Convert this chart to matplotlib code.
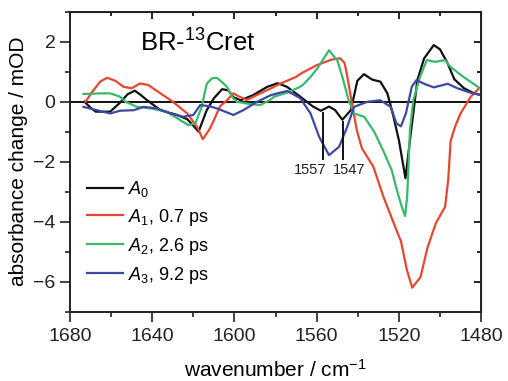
import matplotlib
matplotlib.use('Agg')
import matplotlib.pyplot as plt
from matplotlib.ticker import MultipleLocator

plt.rcParams['font.family'] = 'Liberation Sans'
plt.rcParams['mathtext.fontset'] = 'custom'
plt.rcParams['mathtext.rm'] = 'Liberation Sans'
plt.rcParams['mathtext.it'] = 'Liberation Sans:italic'

# A0 (black)
a0_wn = [1673, 1670, 1667.5, 1660.5, 1656, 1652, 1648.5, 1645.5, 1642.7, 1636, 1628, 1623,
         1620, 1617.5, 1613.5, 1610, 1606, 1603, 1600.5, 1597, 1591, 1584, 1579, 1574.5,
         1568, 1562, 1558, 1554, 1551, 1547.5, 1543.4, 1540.2, 1537, 1533, 1529, 1525.6,
         1523, 1520, 1516.8, 1514.2, 1511, 1507.7, 1503, 1500, 1496.4, 1493, 1488.3, 1484, 1480]
a0_val = [0.0, -0.2, -0.33, -0.33, -0.05, 0.25, 0.37, 0.22, 0.06, -0.28, -0.44, -0.58,
          -0.8, -1.0, -0.28, 0.12, 0.42, 0.38, 0.15, 0.05, 0.22, 0.5, 0.62, 0.5,
          0.17, -0.15, -0.3, -0.16, -0.28, -0.6, -0.28, 0.7, 0.92, 0.74, 0.67, 0.28,
          -0.39, -1.28, -2.55, -1.05, 0.72, 1.45, 1.89, 1.75, 1.3, 0.75, 0.45, 0.3, 0.22]

# A1, 0.7 ps (red)
a1_wn = [1672.5, 1669, 1665.4, 1662, 1658, 1654, 1650, 1646, 1642, 1636, 1630, 1623,
         1618.3, 1615.4, 1612, 1610, 1607, 1603.7, 1600.5, 1598.5, 1594, 1590.8, 1584,
         1577.5, 1570, 1567.7, 1563, 1560, 1553, 1548.6, 1546.5, 1545.5, 1543.4, 1540.5,
         1538, 1532.4, 1527.5, 1521.8, 1519, 1516.1, 1513.5, 1509.5, 1506, 1502, 1497.5,
         1496, 1494.8, 1492.5, 1490, 1485, 1481, 1480]
a1_val = [0.0, 0.35, 0.67, 0.8, 0.7, 0.5, 0.45, 0.61, 0.56, 0.28, 0.0, -0.39,
          -0.83, -1.25, -0.9, -0.61, -0.15, 0.05, 0.28, 0.2, 0.06, 0.17, 0.39,
          0.61, 0.83, 0.94, 1.11, 1.22, 1.4, 1.45, 1.3, 1.0, 0.17, -0.94,
          -1.55, -2.17, -3.17, -4.17, -4.65, -5.61, -6.2, -5.85, -4.85, -4.05, -3.5,
          -2.6, -1.3, -0.8, -0.39, 0.17, 0.45, 0.48]

# A2, 2.6 ps (green)
a2_wn = [1673.5, 1665.4, 1660.5, 1655.7, 1653, 1647.5, 1641, 1633, 1626.5, 1622.4, 1619,
         1616, 1613.5, 1611, 1608.6, 1606, 1603.7, 1601, 1598.9, 1594, 1587.5, 1582.7,
         1580.7, 1574.5, 1568, 1566, 1563, 1559.7, 1556.5, 1554, 1551.5, 1550, 1547.5,
         1544.5, 1541.8, 1536.9, 1532, 1527.5, 1523.5, 1521, 1518.6, 1517, 1516, 1514.6,
         1513, 1509.7, 1506.4, 1502.4, 1497.5, 1495, 1488.6, 1480.5]
a2_val = [0.26, 0.28, 0.28, 0.17, 0.0, -0.17, -0.22, -0.33, -0.61, -0.78, -0.72,
          -0.17, 0.6, 0.78, 0.8, 0.65, 0.5, 0.15, 0.0, -0.06, -0.11, 0.06,
          0.17, 0.3, 0.5, 0.61, 0.83, 1.11, 1.45, 1.72, 1.5, 1.39, 0.83,
          0.06, -0.39, -0.5, -1.0, -1.65, -2.28, -2.94, -3.5, -3.81, -3.2, -0.94,
          0.05, 0.83, 1.39, 1.33, 1.39, 1.17, 0.83, 0.45]

# A3, 9.2 ps (blue)
a3_wn = [1673.5, 1667, 1660.5, 1655.7, 1649, 1644.3, 1637.8, 1631.3, 1625, 1620, 1616.7,
         1612, 1608.6, 1600.5, 1595.7, 1589, 1582.3, 1578, 1574.3, 1568, 1563, 1558.8,
         1554, 1549.1, 1545.1, 1541.8, 1535.3, 1529, 1524, 1521.2, 1519, 1516.6, 1513.7,
         1511.5, 1507, 1503, 1496.2, 1491.5, 1485, 1480]
a3_val = [-0.17, -0.28, -0.39, -0.3, -0.28, -0.17, -0.22, -0.39, -0.5, -0.44, -0.11,
          -0.15, -0.22, -0.44, -0.28, 0.0, 0.22, 0.3, 0.36, 0.12, -0.39, -1.17,
          -1.78, -1.5, -0.83, -0.17, 0.0, 0.05, -0.17, -0.72, -0.82, -0.39, 0.5,
          0.72, 0.58, 0.48, 0.6, 0.45, 0.3, 0.22]

labels = ['$A_0$', '$A_1$, 0.7 ps', '$A_2$, 2.6 ps', '$A_3$, 9.2 ps']
colors = ['#111111', '#e8472f', '#3ab86c', '#3b4aa0']

marks = [1557, 1547]
mark_top = [-0.38, -0.67]
mark_bottom = -1.92

fig = plt.figure(figsize=(5.08, 3.81), dpi=100)
ax = fig.add_axes([0.138, 0.182, 0.809, 0.787])

series = [(a0_wn, a0_val), (a1_wn, a1_val), (a2_wn, a2_val), (a3_wn, a3_val)]
for (wn, val), lab, col in zip(series, labels, colors):
    ax.plot(wn, val, color=col, lw=1.6, label=lab)

ax.axhline(0, color='#111111', lw=1.4, zorder=1)

for m, top in zip(marks, mark_top):
    ax.plot([m, m], [top, mark_bottom], color='#111111', lw=1.4)
ax.text(1555.4, -2.05, '1557', ha='right', va='top', fontsize=10.5, color='#222222')
ax.text(1552, -2.05, '1547', ha='left', va='top', fontsize=10.5, color='#222222')

ax.text(1646, 1.96, 'BR-$^{13}$Cret', fontsize=18.5, va='center', ha='left')

ax.set_xlim(1680, 1480)
ax.set_ylim(-7, 3)
ax.xaxis.set_major_locator(MultipleLocator(40))
ax.xaxis.set_minor_locator(MultipleLocator(20))
ax.yaxis.set_major_locator(MultipleLocator(2))
ax.yaxis.set_minor_locator(MultipleLocator(1))
ax.tick_params(which='both', direction='out', labelsize=14, width=1.2, colors='#222222')
ax.tick_params(which='major', length=7)
ax.tick_params(which='minor', length=3.5)
ax.tick_params(axis='x', which='major', pad=5)

top = ax.secondary_xaxis('top')
top.xaxis.set_major_locator(MultipleLocator(40))
top.xaxis.set_minor_locator(MultipleLocator(20))
top.tick_params(which='both', direction='in', labeltop=False, width=1.2)
top.tick_params(which='major', length=5)
top.tick_params(which='minor', length=3)
right = ax.secondary_yaxis('right')
right.yaxis.set_major_locator(MultipleLocator(2))
right.yaxis.set_minor_locator(MultipleLocator(1))
right.tick_params(which='both', direction='in', labelright=False, width=1.2)
right.tick_params(which='major', length=5)
right.tick_params(which='minor', length=3)

for sp in ax.spines.values():
    sp.set_linewidth(1.4)
    sp.set_color('#222222')

ax.set_xlabel('wavenumber / cm$^{-1}$', fontsize=15, labelpad=10)
ax.set_ylabel('absorbance change / mOD', fontsize=15, labelpad=4)

ax.legend(loc='upper left', bbox_to_anchor=(0.02, 0.473), frameon=False, fontsize=13,
          handlelength=2.0, handletextpad=0.25, labelspacing=0.44, borderpad=0)

fig.savefig('out.png', dpi=100)
